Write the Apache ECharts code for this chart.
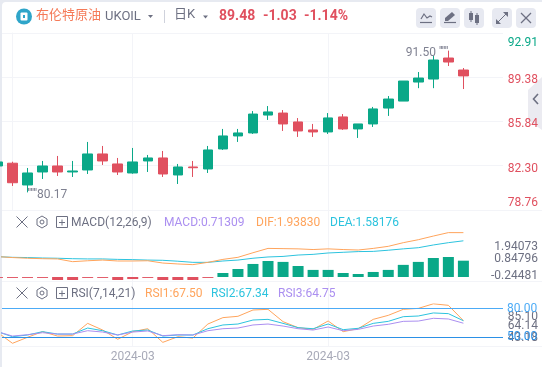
<!DOCTYPE html>
<html>
<head>
<meta charset="utf-8">
<style>
html, body { margin: 0; padding: 0; width: 542px; height: 367px; overflow: hidden; background: #e7eaf1; }
#panel { position: absolute; left: 2px; top: 2px; width: 540px; height: 365px; background: #fff; border-radius: 4px 0 0 0; }
#chart { position: absolute; left: 0; top: 0; width: 542px; height: 367px; }
</style>
</head>
<body>
<div id="panel"></div>
<div id="chart"></div>
<script src="https://cdn.jsdelivr.net/npm/echarts@6/dist/echarts.min.js"></script>
<script>
// bar positions, -1 is the candle cut off by the left edge
var days = [-1, 0, 1, 2, 3, 4, 5, 6, 7, 8, 9, 10, 11, 12, 13, 14, 15, 16, 17, 18, 19, 20, 21, 22, 23, 24, 25, 26, 27, 28, 29, 30];

var opens = [82.28, 82.5, 80.76, 81.8, 82.28, 81.8, 81.96, 83.24, 82.44, 81.72, 82.68, 82.92, 81.56, 82.2, 82.04, 83.64, 84.68, 84.92, 86.35, 86.51, 85.8, 85.16, 85.0, 86.2, 85.24, 85.64, 86.91, 87.47, 88.99, 89.23, 90.91, 89.95];
var closes = [82.6, 80.94, 81.72, 82.28, 81.8, 81.88, 83.24, 82.68, 81.8, 82.6, 82.92, 81.64, 82.2, 82.14, 83.56, 84.68, 84.92, 86.43, 86.6, 85.64, 85.08, 85.0, 86.12, 85.24, 85.64, 86.84, 87.63, 89.07, 89.31, 90.75, 90.59, 89.48];
var lows = [82.28, 80.68, 80.17, 81.24, 81.48, 81.4, 81.64, 82.36, 81.56, 81.66, 81.8, 81.4, 80.84, 81.4, 81.72, 83.56, 84.2, 84.84, 85.96, 85.08, 84.6, 84.6, 84.84, 85.16, 84.52, 85.4, 86.28, 87.47, 88.5, 88.5, 90.27, 88.43];
var highs = [82.6, 82.62, 82.12, 82.68, 83.08, 82.68, 84.2, 83.88, 82.92, 83.72, 83.16, 83.48, 82.44, 82.68, 83.88, 85.24, 85.24, 86.67, 87.07, 86.75, 86.11, 85.64, 86.51, 86.43, 85.64, 87.0, 87.87, 89.07, 89.79, 91.07, 91.5, 90.11];

var dif = [0.89, 0.85, 0.82, 0.80, 0.79, 0.67, 0.71, 0.74, 0.70, 0.70, 0.71, 0.61, 0.57, 0.54, 0.64, 0.77, 0.86, 1.06, 1.25, 1.24, 1.23, 1.20, 1.23, 1.20, 1.18, 1.25, 1.34, 1.50, 1.63, 1.79, 1.94, 1.9383];
var dea = [0.89, 0.86, 0.85, 0.83, 0.82, 0.80, 0.79, 0.79, 0.77, 0.76, 0.74, 0.73, 0.69, 0.64, 0.64, 0.70, 0.74, 0.82, 0.875, 0.90, 0.96, 0.99, 1.05, 1.08, 1.11, 1.12, 1.17, 1.23, 1.28, 1.40, 1.50, 1.5818];
var macd = [-0.04, -0.04, -0.04, -0.04, -0.13, -0.13, -0.04, -0.04, -0.13, -0.09, -0.04, -0.13, -0.13, -0.13, -0.04, 0.175, 0.35, 0.57, 0.70, 0.66, 0.48, 0.31, 0.31, 0.175, 0.13, 0.22, 0.31, 0.53, 0.66, 0.83, 0.875, 0.7131];

var rsi1 = [55.2, 43.7, 50.0, 55.9, 51.3, 51.7, 64.6, 57.6, 47.9, 55.9, 59.0, 44.7, 50.6, 49.2, 63.9, 70.6, 72.0, 78.6, 79.3, 66.4, 60.1, 58.3, 67.1, 55.9, 59.0, 68.8, 73.0, 79.3, 80.3, 85.1, 83.5, 67.5];
var rsi2 = [55.9, 50.6, 52.4, 55.9, 53.4, 53.4, 59.7, 56.9, 52.4, 56.6, 57.6, 51.3, 52.4, 52.4, 59.0, 62.9, 63.9, 68.1, 68.8, 64.6, 60.1, 59.0, 63.9, 58.0, 59.4, 64.6, 66.7, 71.6, 72.3, 75.5, 74.8, 67.34];
var rsi3 = [55.9, 51.3, 52.7, 54.8, 53.4, 53.4, 56.9, 55.5, 52.4, 55.5, 56.6, 51.7, 52.7, 52.4, 56.9, 59.0, 59.7, 62.9, 63.9, 61.8, 59.0, 57.6, 60.8, 56.9, 58.3, 61.8, 63.6, 66.7, 67.0, 69.9, 69.2, 64.75];
var rsiLevels = [80, 50];

var priceTicks = [78.76, 82.30, 85.84, 89.38, 92.91];
var macdEdgeTicks = [-0.24481, 1.94073];
var macdMidTicks = [0.84796];
var rsiEdgeTicks = [43.18, 85.10];
var rsiMidTicks = [64.14];
var dateTickDays = [8, 21];
var dateTickLabels = ['2024-03', '2024-03'];

var UP = '#0aa888', DOWN = '#e0505f', GREY = '#6d7082', LINE = '#f3f4f8';
var ORANGE = '#ffa45c', BLUE = '#2cc3de', PURPLE = '#ab8ff0';
var FONT = 'Roboto, "Noto Sans CJK SC", sans-serif';
var X_MIN = -0.6986, X_MAX = 32.6347;

function pairs(values) {
    return days.map(function (d, i) { return [d, values[i]]; });
}

// label shifted away from its tick by padding, the original puts them this way
function tickRich(keys, color) {
    var rich = {};
    keys.forEach(function (k) {
        rich[k.name] = { color: k.color || color, fontSize: 12, fontFamily: FONT, padding: k.padding };
    });
    return rich;
}

// label only axis, the edge and middle labels sit too close for one axis to keep them all
function labelAxis(grid, min, max, ticks, digits, paddings) {
    var keys = paddings.map(function (p, i) { return { name: 'p' + i, padding: p }; });
    return {
        type: 'value', gridIndex: grid, position: 'right', min: min, max: max, scale: true,
        axisLine: { show: false },
        axisTick: { show: false, customValues: ticks },
        splitLine: { show: false },
        axisLabel: {
            customValues: ticks, align: 'right', margin: 35, showMinLabel: true, showMaxLabel: true,
            formatter: function (v) { return '{p' + ticks.indexOf(v) + '|' + v.toFixed(digits) + '}'; },
            rich: tickRich(keys, GREY)
        }
    };
}

function txt(x, y, text, color, size, weight, align) {
    return {
        type: 'text', x: x, y: y, z: 20,
        style: { text: text, fill: color, font: (weight || 'normal') + ' ' + size + 'px ' + FONT, verticalAlign: 'middle', align: align || 'left' }
    };
}
function seg(points, color, width) {
    return { type: 'polyline', z: 20, shape: { points: points }, style: { stroke: color || GREY, lineWidth: width || 1, fill: null } };
}
function poly(points, color) {
    return { type: 'polygon', z: 20, shape: { points: points }, style: { fill: color || GREY } };
}
function box(x, y, w, h, color, r, z) {
    return { type: 'rect', z: z || 19, shape: { x: x, y: y, width: w, height: h, r: r || 0 }, style: { fill: color } };
}
function tri(x, y) {
    return poly([[x, y], [x + 5, y], [x + 2.5, y + 3]], GREY);
}
function panelIcons(cy) {
    return [
        seg([[16.5, cy - 5.5], [27.5, cy + 5.5]]),
        seg([[27.5, cy - 5.5], [16.5, cy + 5.5]]),
        seg([[42, cy - 6], [47, cy - 3], [47, cy + 3], [42, cy + 6], [37, cy + 3], [37, cy - 3], [42, cy - 6]]),
        { type: 'circle', z: 20, shape: { cx: 42, cy: cy, r: 2 }, style: { stroke: GREY, fill: null, lineWidth: 1 } },
        { type: 'rect', z: 20, shape: { x: 56.5, y: cy - 5.5, width: 11, height: 11 }, style: { stroke: GREY, fill: null, lineWidth: 1 } },
        seg([[59, cy + 0.5], [65, cy + 0.5]]),
        seg([[62, cy - 2.5], [62, cy + 3.5]])
    ];
}

var header = [
    { type: 'circle', z: 20, shape: { cx: 24, cy: 16.5, r: 8 }, style: { fill: '#2fa5c9' } },
    box(20.5, 12.5, 7, 8, '#fff', 1, 21),
    box(23, 15, 2, 3, '#2fa5c9', 0, 22),
    txt(36, 16, '布伦特原油', '#f57a58', 13),
    txt(105, 17, 'UKOIL', GREY, 13),
    tri(148, 15),
    seg([[164.5, 10], [164.5, 23]], '#cfd2dc'),
    txt(174, 15, '日K', GREY, 13),
    tri(203, 15.5),
    txt(219, 16, '89.48', DOWN, 14, 'bold'),
    txt(263, 16, '-1.03', DOWN, 14, 'bold'),
    txt(304, 16, '-1.14%', DOWN, 14, 'bold')
];

var buttons = [416, 440, 464, 492, 516].map(function (x) { return box(x, 8, 20, 20, '#e7e9f1', 4); }).concat([
    seg([[421, 19], [424, 14], [427, 18], [430, 16], [432, 17]], GREY, 1.2),
    seg([[420, 22.5], [432, 22.5]], GREY, 1.2),
    poly([[445, 21], [445, 18], [452, 12], [455, 15], [448, 21]]),
    seg([[444, 22.5], [456, 22.5]], GREY, 1.2),
    box(469, 13, 4, 7, GREY, 0, 20), seg([[471, 11], [471, 22]]),
    box(475, 15, 4, 8, GREY, 0, 20), seg([[477, 13], [477, 25]]),
    seg([[498, 22], [506, 14]]),
    poly([[503, 12], [508, 12], [508, 17]]),
    poly([[496, 19], [496, 24], [501, 24]]),
    seg([[521, 13], [531, 23]], GREY, 1.2),
    seg([[531, 13], [521, 23]], GREY, 1.2)
]);

var rows = panelIcons(222).concat(panelIcons(293)).concat([
    txt(71, 222.5, 'MACD(12,26,9)', GREY, 12),
    txt(164, 222.5, 'MACD:0.71309', PURPLE, 12),
    txt(256, 222.5, 'DIF:1.93830', ORANGE, 12),
    txt(330, 222.5, 'DEA:1.58176', BLUE, 12),
    txt(71, 293.5, 'RSI(7,14,21)', GREY, 12),
    txt(145, 293.5, 'RSI1:67.50', ORANGE, 12),
    txt(211, 293.5, 'RSI2:67.34', BLUE, 12),
    txt(278, 293.5, 'RSI3:64.75', PURPLE, 12)
]);

var frame = [
    seg([[2, 210.5], [542, 210.5]], LINE),
    seg([[2, 281.5], [542, 281.5]], LINE),
    seg([[2, 346.5], [542, 346.5]], LINE),
    { type: 'polygon', z: 0, shape: { points: [[542, 77], [528, 90], [528, 120], [542, 130]] }, style: { fill: '#ebebf1' } },
    seg([[538, 94], [533.5, 99], [538, 104]], GREY, 1.6)
];

function hiddenAxis(idx) {
    return { type: 'value', gridIndex: idx, min: X_MIN, max: X_MAX, show: false };
}

var chart = echarts.init(document.getElementById('chart'));

var option = {
    animation: false,
    backgroundColor: 'transparent',
    textStyle: { fontFamily: FONT },
    grid: [
        { left: 2, top: 33, width: 501, height: 177 },
        { left: 2, top: 232.6, width: 501, height: 50 },
        { left: 2, top: 303.8, width: 501, height: 40 },
        { left: 2, top: 33, width: 501, height: 313 }
    ],
    xAxis: [
        hiddenAxis(0),
        hiddenAxis(1),
        hiddenAxis(2),
        {
            type: 'value', gridIndex: 3, min: X_MIN, max: X_MAX,
            axisLine: { show: false },
            axisTick: { show: false, customValues: dateTickDays },
            splitLine: { show: true, lineStyle: { color: LINE, width: 1 } },
            axisLabel: {
                customValues: dateTickDays,
                color: '#a8aab8', fontSize: 12, margin: 5,
                formatter: function (v) { return dateTickLabels[dateTickDays.indexOf(v)]; }
            }
        }
    ],
    yAxis: [
        {
            type: 'value', gridIndex: 0, position: 'right', min: 78.76, max: 92.91, scale: true,
            axisLine: { show: true, lineStyle: { color: LINE } },
            axisTick: { show: false, customValues: priceTicks },
            splitLine: { show: true, lineStyle: { color: LINE, width: 1 } },
            axisLabel: {
                customValues: priceTicks, align: 'right', margin: 35, showMinLabel: true, showMaxLabel: true,
                formatter: function (v) {
                    var s = v.toFixed(2);
                    if (v === 92.91) return '{top|' + s + '}';
                    if (v === 78.76) return '{bot|' + s + '}';
                    return '{mid|' + s + '}';
                },
                rich: tickRich([
                    { name: 'top', padding: [20, 0, 0, 0], color: UP },
                    { name: 'mid', padding: [6, 0, 0, 0] },
                    { name: 'bot', padding: [0, 0, 14, 0] }
                ], DOWN)
            }
        },
        labelAxis(1, -0.24481, 1.94073, macdEdgeTicks, 5, [[0, 0, 13, 0], [29, 0, 0, 0]]),
        labelAxis(2, 43.18, 85.10, rsiEdgeTicks, 2, [[0, 0, 12, 0], [26, 0, 0, 0]]),
        { type: 'value', gridIndex: 3, min: 0, max: 1, show: false },
        labelAxis(1, -0.24481, 1.94073, macdMidTicks, 5, [[2, 0, 0, 0]]),
        labelAxis(2, 43.18, 85.10, rsiMidTicks, 2, [[5, 0, 0, 0]])
    ],
    series: [
        {
            type: 'candlestick', xAxisIndex: 0, yAxisIndex: 0, barWidth: 10,
            encode: { x: 0, y: [1, 2, 3, 4] },
            data: days.map(function (d, i) { return [d, opens[i], closes[i], lows[i], highs[i]]; }),
            itemStyle: { color: UP, color0: DOWN, borderColor: UP, borderColor0: DOWN, borderWidth: 1 },
            markPoint: {
                symbolSize: 0, silent: true,
                data: [
                    { coord: [29, 91.5], value: 91.5, label: { position: 'left', distance: 0, offset: [0, 2], formatter: "91.50 ''''''" } },
                    { coord: [1, 80.17], value: 80.17, label: { position: 'right', distance: 0, offset: [0, 3], formatter: "''''''80.17" } }
                ],
                label: { color: '#7f8191', fontSize: 12, fontFamily: FONT }
            }
        },
        {
            type: 'bar', xAxisIndex: 1, yAxisIndex: 1, barWidth: 11,
            data: days.map(function (d, i) {
                return { value: [d, macd[i]], itemStyle: { color: macd[i] < 0 ? DOWN : UP } };
            })
        },
        { type: 'line', xAxisIndex: 1, yAxisIndex: 1, data: pairs(dea), symbol: 'none', lineStyle: { color: BLUE, width: 1 } },
        { type: 'line', xAxisIndex: 1, yAxisIndex: 1, data: pairs(dif), symbol: 'none', lineStyle: { color: ORANGE, width: 1 } },
        { type: 'line', xAxisIndex: 2, yAxisIndex: 2, data: pairs(rsi1), symbol: 'none', lineStyle: { color: ORANGE, width: 1 } },
        { type: 'line', xAxisIndex: 2, yAxisIndex: 2, data: pairs(rsi2), symbol: 'none', lineStyle: { color: BLUE, width: 1 } },
        {
            type: 'line', xAxisIndex: 2, yAxisIndex: 2, data: pairs(rsi3), symbol: 'none', lineStyle: { color: PURPLE, width: 1 },
            markLine: {
                silent: true, symbol: 'none',
                data: [
                    { yAxis: rsiLevels[0], lineStyle: { color: '#4cabf6', width: 1, type: 'solid' }, label: { color: '#4cabf6' } },
                    { yAxis: rsiLevels[1], lineStyle: { color: '#2b90e6', width: 1, type: 'solid' }, label: { color: '#2b90e6' } }
                ],
                label: {
                    position: 'end', distance: 4, fontSize: 12, fontFamily: FONT,
                    formatter: function (p) { return p.value.toFixed(2); }
                }
            }
        }
    ],
    graphic: { elements: frame.concat(header, buttons, rows) }
};

chart.setOption(option);
</script>
</body>
</html>
